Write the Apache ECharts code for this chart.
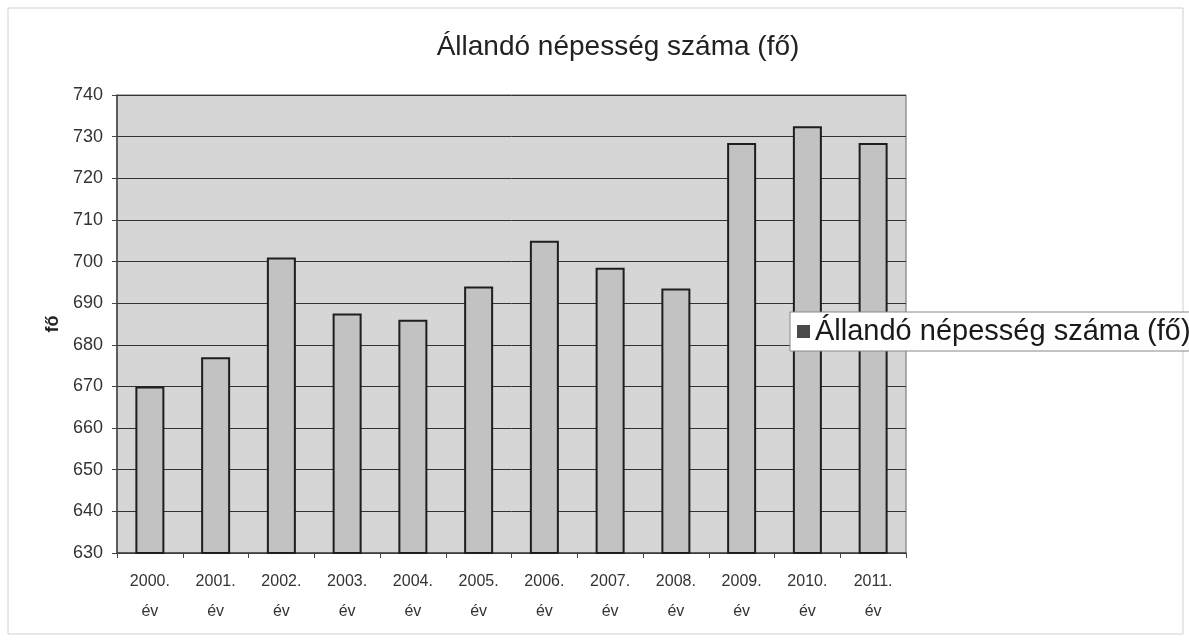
<!DOCTYPE html>
<html>
<head>
<meta charset="utf-8">
<script src="https://cdn.jsdelivr.net/npm/echarts@6/dist/echarts.min.js"></script>
<style>
  html, body { margin: 0; padding: 0; background: #fff; }
  #chart { width: 1189px; height: 642px; }
</style>
</head>
<body>
<div id="chart"></div>
<script>
// évek és értékek
var years = ['2000.\név', '2001.\név', '2002.\név', '2003.\név', '2004.\név', '2005.\név',
             '2006.\név', '2007.\név', '2008.\név', '2009.\név', '2010.\név', '2011.\név']
var population = [670, 677, 701, 687.5, 686, 694, 705, 698.5, 693.5, 728.5, 732.5, 728.5]
var seriesName = 'Állandó népesség száma (fő)'

var chart = echarts.init(document.getElementById('chart'))
chart.setOption({
    animation: false,
    textStyle: { fontFamily: 'Liberation Sans, Arial, sans-serif' },
    graphic: [
        {
            type: 'rect',
            shape: { x: 8, y: 8, width: 1175, height: 626 },
            style: { fill: 'none', stroke: '#d0d0d0', lineWidth: 1 },
            z: -10
        }
    ],
    title: {
        text: seriesName,
        left: 613,
        textAlign: 'center',
        top: 28,
        textStyle: { fontSize: 28, fontWeight: 'normal', color: '#222' }
    },
    legend: {
        left: 790,
        top: 312,
        padding: [5, 6, 5, 7],
        backgroundColor: '#fff',
        borderColor: '#888',
        borderWidth: 1,
        itemWidth: 13,
        itemHeight: 13,
        itemGap: 4,
        textStyle: { fontSize: 29, color: '#1a1a1a' },
        data: [{ name: seriesName, icon: 'rect', itemStyle: { color: '#4a4a4a', borderWidth: 0 } }]
    },
    grid: {
        left: 117,
        right: 283,
        top: 95,
        bottom: 89,
        show: true,
        backgroundColor: '#d6d6d6',
        borderColor: '#666',
        borderWidth: 1
    },
    xAxis: {
        type: 'category',
        data: years,
        axisLine: { lineStyle: { color: '#444', width: 1.5 } },
        axisTick: { show: true, length: 5, lineStyle: { color: '#444' } },
        axisLabel: { color: '#333', fontSize: 16, lineHeight: 30, margin: 14 }
    },
    yAxis: {
        type: 'value',
        min: 630,
        max: 740,
        interval: 10,
        name: 'fő',
        nameLocation: 'middle',
        nameGap: 54,
        nameRotate: 90,
        nameTextStyle: { fontSize: 18, color: '#222', fontWeight: 'bold' },
        axisLine: { show: true, lineStyle: { color: '#444', width: 1.5 } },
        axisTick: { show: true, length: 5, lineStyle: { color: '#444' } },
        axisLabel: { color: '#333', fontSize: 18, margin: 14 },
        splitLine: { lineStyle: { color: '#333', width: 1 } }
    },
    series: [
        {
            name: seriesName,
            type: 'bar',
            data: population,
            barWidth: 29,
            itemStyle: { color: '#c2c2c2', borderColor: '#1e1e1e', borderWidth: 2 }
        }
    ]
})
</script>
</body>
</html>
